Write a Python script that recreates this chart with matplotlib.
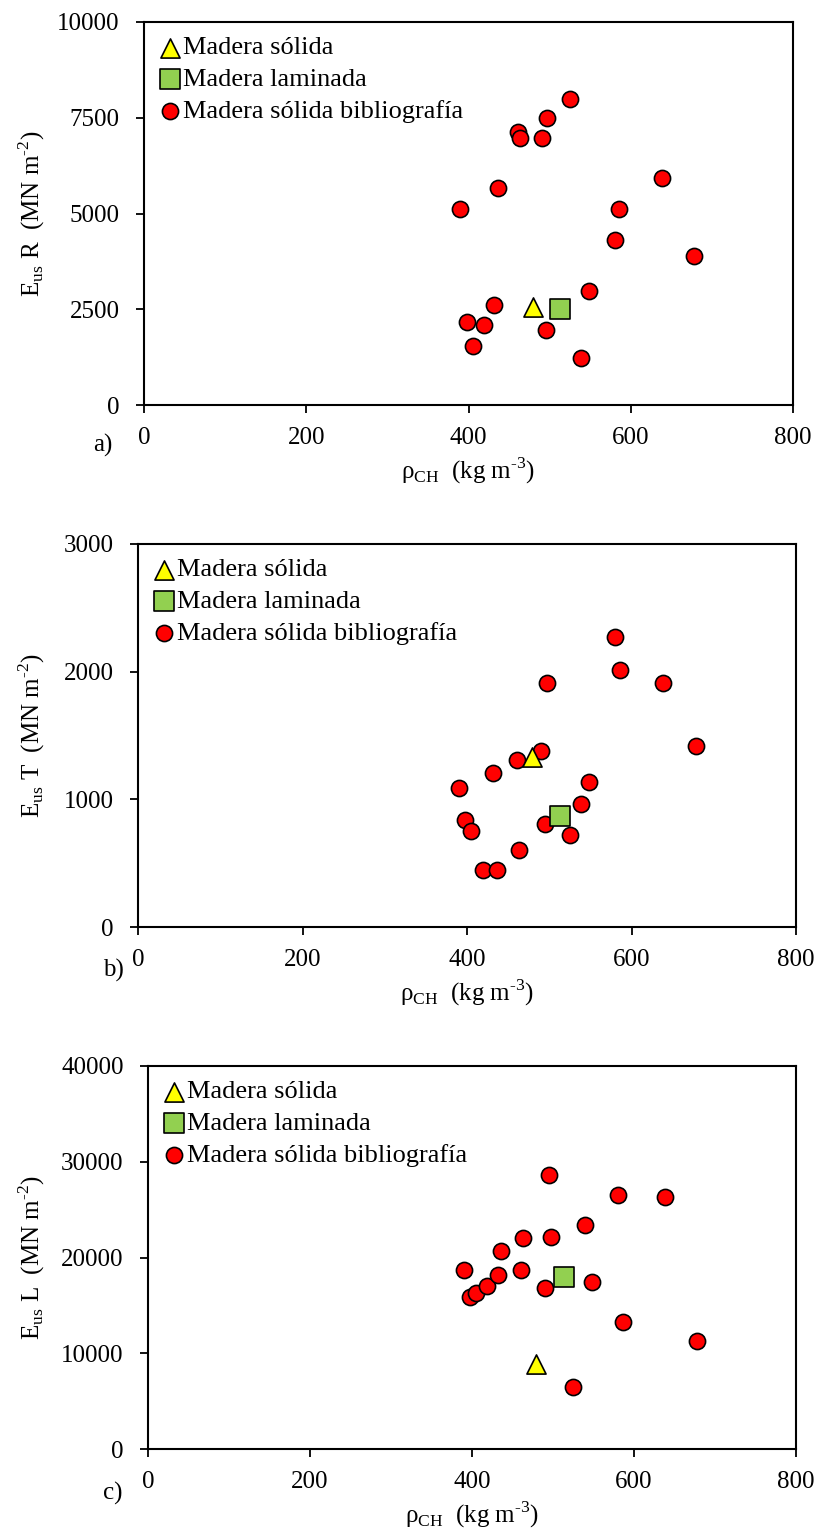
#!/usr/bin/env python3
"""
Ultrasound stiffness vs density, three panels (R, T, L).
"""
import matplotlib
matplotlib.use('Agg')
import matplotlib.pyplot as plt

# density of the bibliography species (kg m-3)
rho_biblio = [390, 398, 405, 419, 432, 436, 461, 463, 490, 495, 497,
              525, 539, 548, 580, 586, 638, 678]
eR_biblio = [5120, 2170, 1550, 2080, 2620, 5660, 7120, 6960, 6980, 1970, 7500,
             8000, 1220, 2970, 4320, 5130, 5930, 3880]
eT_biblio = [1090, 840, 750, 450, 1210, 450, 1310, 600, 1380, 810, 1910,
             720, 960, 1135, 2270, 2010, 1910, 1420]
eL_biblio = [18700, 15900, 16300, 17000, 18200, 20700, 18700, 22000, 16800, 28600, 22100,
             6460, 23350, 17450, 26500, 13280, 26340, 11300]

# own measurements
rho_solida = [479]
rho_laminada = [513]
eR_solida = [2550]
eR_laminada = [2500]
eT_solida = [1330]
eT_laminada = [870]
eL_solida = [8900]
eL_laminada = [18000]

legend_labels = ['Madera sólida', 'Madera laminada', 'Madera sólida bibliografía']
panel_names = ['a)', 'b)', 'c)']
dir_names = ['R', 'T', 'L']
y_limits = [10000, 3000, 40000]
y_ticks = [[0, 2500, 5000, 7500, 10000],
           [0, 1000, 2000, 3000],
           [0, 10000, 20000, 30000, 40000]]
x_ticks = [0, 200, 400, 600, 800]

W, H = 817, 1531
# axes boxes in pixels: left, right, top, bottom
boxes = [(144, 793, 22, 405), (138, 796, 544, 927), (148, 796, 1066, 1449)]
label_pos = [(93, 445), (103, 970), (103, 1493)]

plt.rcParams['font.family'] = ['Liberation Serif', 'DejaVu Serif']
plt.rcParams['mathtext.fontset'] = 'custom'
plt.rcParams['mathtext.rm'] = 'Liberation Serif'
FS = 18
FS_LEG = 19
HYPH = '\u2010'


def draw_panel(fig, i, e_biblio, e_sol, e_lam):
    l, r, t, b = boxes[i]
    ax = fig.add_axes([l / W, 1 - b / H, (r - l) / W, (b - t) / H])

    ax.scatter(rho_solida, e_sol, marker='^', s=190, c='#FFFF00',
               edgecolors='black', linewidths=1.2, zorder=3, label=legend_labels[0])
    ax.scatter(rho_laminada, e_lam, marker='s', s=190, c='#92D050',
               edgecolors='black', linewidths=1.2, zorder=3, label=legend_labels[1])
    ax.scatter(rho_biblio, e_biblio, marker='o', s=135, c='#FF0000',
               edgecolors='black', linewidths=1.2, zorder=2, label=legend_labels[2])

    ax.set_xlim(0, 800)
    ax.set_ylim(0, y_limits[i])
    ax.set_xticks(x_ticks)
    ax.set_yticks(y_ticks[i])
    ax.tick_params(direction='out', length=5.5, width=1.3, labelsize=FS)
    ax.tick_params(axis='y', pad=12)
    ax.tick_params(axis='x', pad=10)
    for sp in ax.spines.values():
        sp.set_linewidth(1.5)

    ax.set_xlabel('ρ$_{\\mathregular{CH}}$  (kg m$^{\\mathregular{' + HYPH + '3}}$)',
                  fontsize=FS, labelpad=5)
    ax.set_ylabel('E$_{\\mathregular{us}}$ ' + dir_names[i] +
                  '  (MN m$^{\\mathregular{' + HYPH + '2}}$)', fontsize=FS)
    ax.yaxis.set_label_coords((47 - l) / (r - l), 0.5)

    ax.legend(loc='upper left', bbox_to_anchor=(17 / (r - l), 1 - 14 / (b - t)),
              frameon=False, fontsize=FS_LEG, borderpad=0, borderaxespad=0,
              handlelength=0.7, handletextpad=0.15, labelspacing=0.31,
              scatterpoints=1)

    fig.text(label_pos[i][0] / W, 1 - label_pos[i][1] / H, panel_names[i],
             fontsize=FS, ha='left', va='center')
    return ax


def main():
    fig = plt.figure(figsize=(W / 100, H / 100), dpi=100)
    draw_panel(fig, 0, eR_biblio, eR_solida, eR_laminada)
    draw_panel(fig, 1, eT_biblio, eT_solida, eT_laminada)
    draw_panel(fig, 2, eL_biblio, eL_solida, eL_laminada)
    fig.savefig('out.png', dpi=100, facecolor='white')


if __name__ == "__main__":
    main()
